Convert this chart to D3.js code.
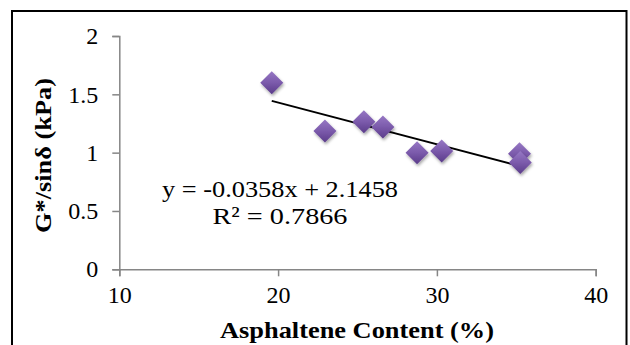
<!DOCTYPE html>
<html>
<head>
<meta charset="utf-8">
<script src="https://cdn.jsdelivr.net/npm/d3@7"></script>
<style>
  body { margin: 0; background: #fff; }
  svg text { font-family: "Liberation Serif", "Times New Roman", Times, serif; fill: #000; }
</style>
</head>
<body>
<div id="chart"></div>
<script>
// data
var asphaltene = [19.6, 22.95, 25.4, 26.6, 28.75, 30.3, 35.2, 35.25];
var gSinDelta  = [1.60, 1.185, 1.265, 1.22, 1.00, 1.015, 0.99, 0.915];
var xTicks = [10, 20, 30, 40];
var yTicks = [0, 0.5, 1, 1.5, 2];
var trendSlope = -0.0358, trendIntercept = 2.1458;
var trendText = ["y = -0.0358x + 2.1458", "R\u00b2 = 0.7866"];

var serif = "'Liberation Serif', 'Times New Roman', Times, serif";
var width = 630, height = 345;
var svg = d3.select("#chart").append("svg")
    .attr("width", width)
    .attr("height", height);

// outer frame
svg.append("rect")
    .attr("x", 12).attr("y", 11)
    .attr("width", 614.5).attr("height", 345)
    .attr("fill", "none")
    .attr("stroke", "#000")
    .attr("stroke-width", 2);

var x = d3.scaleLinear().domain([10, 40]).range([119.3, 595.7]);
var y = d3.scaleLinear().domain([0, 2]).range([269.3, 36]);

// marker gradient + shadow
var defs = svg.append("defs");
var grad = defs.append("linearGradient").attr("id", "dia")
    .attr("x1", 0).attr("y1", 0).attr("x2", 0).attr("y2", 1);
grad.append("stop").attr("offset", "0%").attr("stop-color", "#9677c4");
grad.append("stop").attr("offset", "50%").attr("stop-color", "#7b5aab");
grad.append("stop").attr("offset", "100%").attr("stop-color", "#5b3c8a");
var sh = defs.append("filter").attr("id", "shadow")
    .attr("x", "-50%").attr("y", "-50%").attr("width", "200%").attr("height", "200%");
sh.append("feDropShadow").attr("dx", 1).attr("dy", 2).attr("stdDeviation", 1.5)
    .attr("flood-color", "#000").attr("flood-opacity", 0.35);

// axes
var axisColor = "#868686";
var yAxis = svg.append("g")
    .attr("transform", "translate(" + x(10) + ",0)")
    .call(d3.axisLeft(y).tickValues(yTicks).tickSize(7).tickPadding(14)
        .tickFormat(function(d) { return d; }));
var xAxis = svg.append("g")
    .attr("transform", "translate(0," + y(0) + ")")
    .call(d3.axisBottom(x).tickValues(xTicks).tickSize(7).tickPadding(10)
        .tickFormat(function(d) { return d; }));

[xAxis, yAxis].forEach(function(a) {
    a.attr("font-family", serif).attr("font-size", 24);
    a.select(".domain").attr("stroke", axisColor).attr("stroke-width", 1.5);
    a.selectAll(".tick line").attr("stroke", axisColor).attr("stroke-width", 1.5);
    a.selectAll(".tick text").attr("fill", "#000");
});

// trend line
var xMin = d3.min(asphaltene), xMax = d3.max(asphaltene);
svg.append("line")
    .attr("x1", x(xMin)).attr("y1", y(trendSlope * xMin + trendIntercept))
    .attr("x2", x(xMax)).attr("y2", y(trendSlope * xMax + trendIntercept))
    .attr("stroke", "#000")
    .attr("stroke-width", 2);

// points
var pts = asphaltene.map(function(d, i) { return [d, gSinDelta[i]]; });
svg.append("g").selectAll("path")
    .data(pts)
    .enter().append("path")
    .attr("transform", function(d) { return "translate(" + x(d[0]) + "," + y(d[1]) + ")"; })
    .attr("d", "M0,-11.5L11.5,0L0,11.5L-11.5,0Z")
    .attr("fill", "url(#dia)")
    .attr("filter", "url(#shadow)");

// trendline label (stretched to the width it has in the original)
var labelLen = [236, 135];
svg.append("g").selectAll("text")
    .data(trendText)
    .enter().append("text")
    .attr("x", function(d, i) { return 280 - labelLen[i] / 2; })
    .attr("y", function(d, i) { return 197 + i * 27; })
    .attr("font-family", serif)
    .attr("font-size", 24)
    .attr("textLength", function(d, i) { return labelLen[i]; })
    .attr("lengthAdjust", "spacingAndGlyphs")
    .text(function(d) { return d; });

// axis titles
svg.append("text")
    .attr("x", 357 - 137).attr("y", 338)
    .attr("font-family", serif)
    .attr("font-size", 24)
    .attr("font-weight", "bold")
    .attr("textLength", 274)
    .attr("lengthAdjust", "spacingAndGlyphs")
    .text("Asphaltene Content (%)");

svg.append("text")
    .attr("transform", "translate(51," + (155.5 + 77.5) + ") rotate(-90)")
    .attr("font-family", serif)
    .attr("font-size", 24)
    .attr("font-weight", "bold")
    .attr("textLength", 155)
    .attr("lengthAdjust", "spacingAndGlyphs")
    .text("G*/sin\u03b4 (kPa)");
</script>
</body>
</html>
